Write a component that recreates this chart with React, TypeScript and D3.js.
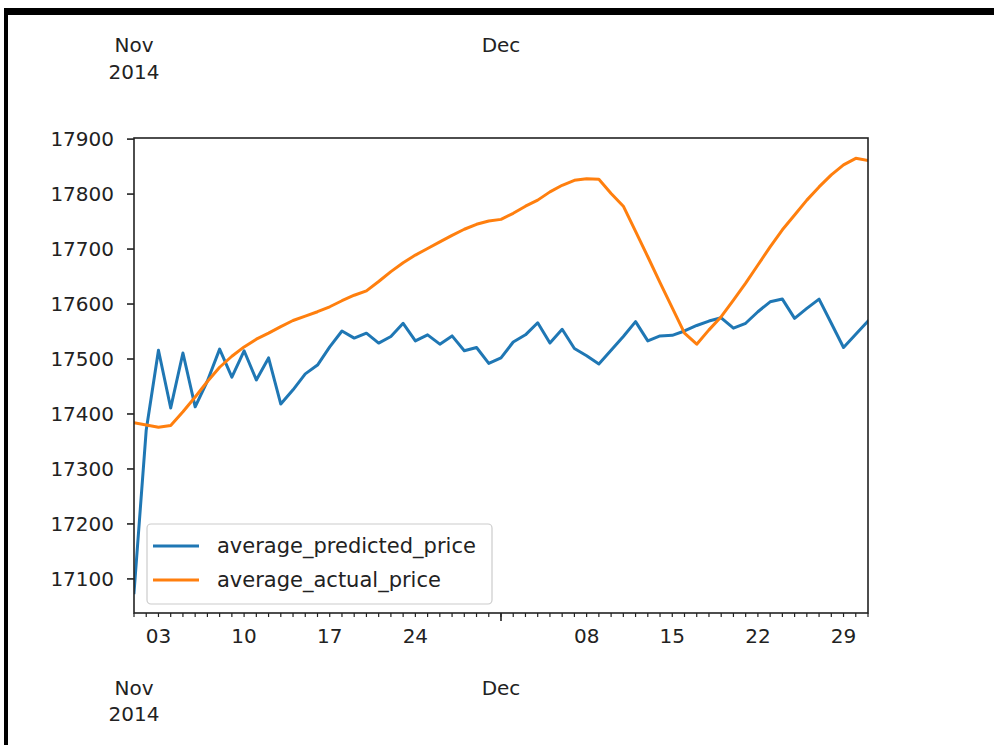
import React from "react";
import * as d3 from "d3";

const startDate = new Date(2014, 10, 1);
const endDate = new Date(2014, 11, 31);

const averagePredictedPrice = [
  17075, 17371, 17516, 17411, 17511, 17413, 17460, 17518, 17467, 17515,
  17462, 17502, 17418, 17444, 17473, 17489, 17522, 17551, 17538, 17547,
  17529, 17541, 17565, 17533, 17544, 17527, 17542, 17515, 17521, 17492,
  17502, 17531, 17544, 17566, 17529, 17554, 17519, 17506, 17491, 17516,
  17541, 17568, 17533, 17542, 17543, 17551, 17561, 17569, 17575, 17556,
  17565, 17586, 17604, 17609, 17574, 17592, 17609, 17565, 17521, 17545,
  17569,
];

const averageActualPrice = [
  17384, 17380, 17376, 17379, 17404, 17431, 17459, 17485, 17505, 17522,
  17536, 17547, 17559, 17570, 17578, 17586, 17595, 17606, 17616, 17624,
  17641, 17659, 17675, 17689, 17701, 17713, 17725, 17736, 17745, 17751,
  17754, 17765, 17778, 17789, 17804, 17816, 17825, 17828, 17827, 17801,
  17778, 17732, 17686, 17639, 17593, 17547, 17527, 17553, 17577, 17607,
  17638, 17671, 17704, 17735, 17762, 17789, 17813, 17835, 17853, 17865,
  17861,
];

const seriesNames = ["average_predicted_price", "average_actual_price"];
const seriesColors = ["#1f77b4", "#ff7f0e"];
const yTicks = [17100, 17200, 17300, 17400, 17500, 17600, 17700, 17800, 17900];

const W = 994;
const H = 745;
const L = 134, R = 868, T = 138, B = 613;
const FONT = "DejaVu Sans, sans-serif";

export default function App() {
  const dates = d3.timeDay.range(startDate, d3.timeDay.offset(endDate, 1));
  const x = d3.scaleTime().domain([startDate, endDate]).range([L, R]);
  const y = d3.scaleLinear().domain([17038, 17902]).range([B, T]);

  const line = d3
    .line<number>()
    .x((_, i) => x(dates[i]))
    .y((v) => y(v));

  const series = [averagePredictedPrice, averageActualPrice];
  const dayTicks = d3.timeDay.range(startDate, d3.timeDay.offset(endDate, 1));
  const monthStarts = d3.timeMonth.range(d3.timeDay.offset(startDate, 1), endDate);
  const weekTicks = d3
    .timeMonday.range(startDate, d3.timeDay.offset(endDate, 1))
    .filter((d) => d.getDate() !== 1);
  const fmtDay = d3.timeFormat("%d");

  return (
    <svg
      width={W}
      height={H}
      style={{ position: "absolute", left: 0, top: 0, background: "#fff" }}
      fontFamily={FONT}
    >
      <rect x={0} y={0} width={W} height={H} fill="#fff" />
      {/* frame */}
      <rect x={4} y={8} width={W - 4} height={7} fill="#000" />
      <rect x={4} y={8} width={4} height={H - 8} fill="#000" />

      {/* top date labels */}
      <text x={x(startDate)} y={45} fontSize={20} textAnchor="middle" dominantBaseline="central" fill="#222">Nov</text>
      <text x={x(startDate)} y={72} fontSize={20} textAnchor="middle" dominantBaseline="central" fill="#222">2014</text>
      {monthStarts.map((d, i) => (
        <text key={"tm" + i} x={x(d)} y={45} fontSize={20} textAnchor="middle" dominantBaseline="central" fill="#222">
          {d3.timeFormat("%b")(d)}
        </text>
      ))}

      {/* lines */}
      <g clipPath="url(#clip)">
        <defs>
          <clipPath id="clip">
            <rect x={L} y={T} width={R - L} height={B - T} />
          </clipPath>
        </defs>
        {series.map((s, k) => (
          <path
            key={k}
            d={line(s) || ""}
            fill="none"
            stroke={seriesColors[k]}
            strokeWidth={3}
            strokeLinejoin="round"
            strokeLinecap="square"
          />
        ))}
      </g>

      {/* spines */}
      <rect x={L} y={T} width={R - L} height={B - T} fill="none" stroke="#222" strokeWidth={1.6} />

      {/* y ticks */}
      {yTicks.map((t) => (
        <g key={t}>
          <line x1={L - 7} x2={L} y1={y(t)} y2={y(t)} stroke="#222" strokeWidth={1.6} />
          <text x={L - 20} y={y(t)} fontSize={20} textAnchor="end" dominantBaseline="central" fill="#222">
            {t}
          </text>
        </g>
      ))}

      {/* x minor day ticks */}
      {dayTicks.map((d, i) => (
        <line key={"d" + i} x1={x(d)} x2={x(d)} y1={B} y2={B + 4} stroke="#222" strokeWidth={1.2} />
      ))}
      {monthStarts.map((d, i) => (
        <line key={"m" + i} x1={x(d)} x2={x(d)} y1={B} y2={B + 8} stroke="#222" strokeWidth={1.6} />
      ))}
      {weekTicks.map((d, i) => (
        <text key={"w" + i} x={x(d)} y={636} fontSize={20} textAnchor="middle" dominantBaseline="central" fill="#222">
          {fmtDay(d)}
        </text>
      ))}

      {/* bottom date labels */}
      <text x={x(startDate)} y={688} fontSize={20} textAnchor="middle" dominantBaseline="central" fill="#222">Nov</text>
      <text x={x(startDate)} y={714} fontSize={20} textAnchor="middle" dominantBaseline="central" fill="#222">2014</text>
      {monthStarts.map((d, i) => (
        <text key={"bm" + i} x={x(d)} y={688} fontSize={20} textAnchor="middle" dominantBaseline="central" fill="#222">
          {d3.timeFormat("%b")(d)}
        </text>
      ))}

      {/* legend */}
      <rect x={147} y={524} width={345} height={80} rx={4} fill="#fff" fillOpacity={0.8} stroke="#cccccc" strokeWidth={1.2} />
      {seriesNames.map((n, k) => (
        <g key={n}>
          <line x1={153} x2={199} y1={546 + k * 34} y2={546 + k * 34} stroke={seriesColors[k]} strokeWidth={3} />
          <text x={217} y={546 + k * 34} fontSize={21} dominantBaseline="central" fill="#222">
            {n}
          </text>
        </g>
      ))}
    </svg>
  );
}
